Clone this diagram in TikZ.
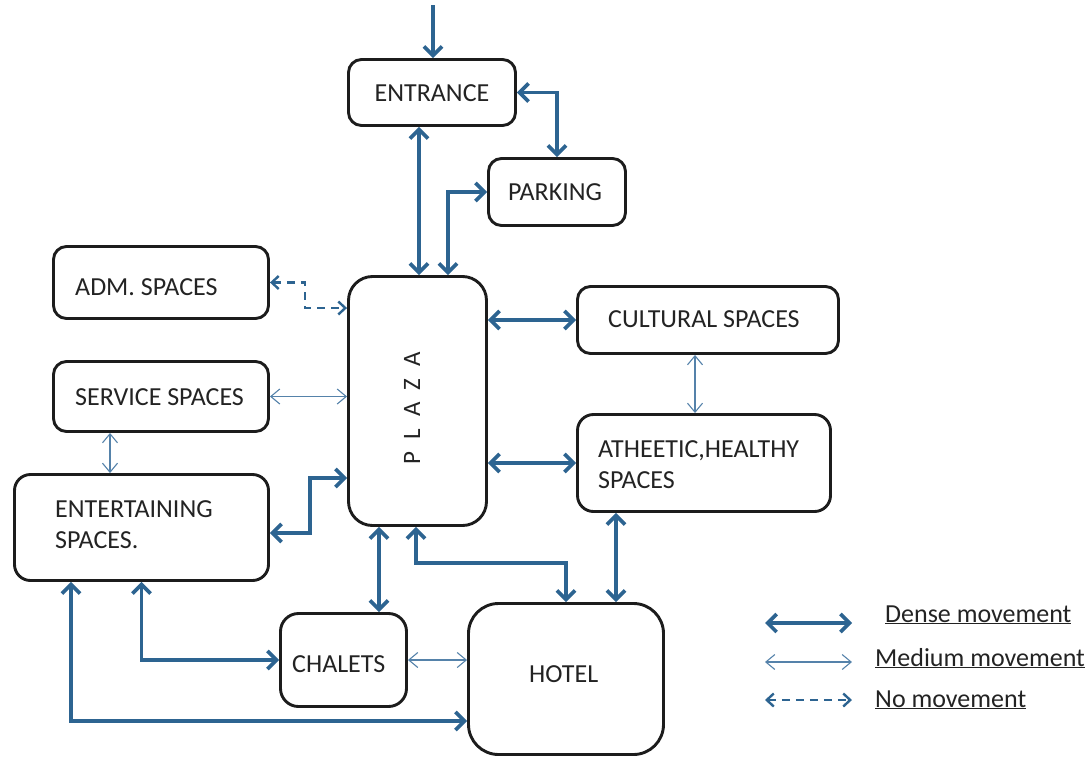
\documentclass[tikz,border=0pt]{standalone}
\usepackage{fontspec}
\setmainfont{Carlito}
\usetikzlibrary{arrows.meta,calc}
\definecolor{densec}{RGB}{45,100,145}
\definecolor{thinc}{RGB}{85,130,170}
\definecolor{boxc}{RGB}{28,28,28}
\definecolor{txtc}{RGB}{35,35,35}
\begin{document}
\begin{tikzpicture}[x=1pt,y=-1pt,
  box/.style={draw=boxc, line width=2.9pt, inner sep=0pt, rounded corners=#1},
  box/.default=13pt,
  lab/.style={font=\fontsize{26}{30}\selectfont, text=txtc, inner sep=0pt},
  dns/.style={draw=densec, line width=3.7pt, >={Straight Barb[length=9pt,width=18pt]}, <->},
  med/.style={draw=thinc, line width=1.1pt, >={Straight Barb[length=9pt,width=15pt]}, <->},
  nomv/.style={draw=densec, line width=2.4pt, dash pattern=on 8pt off 6pt, >={Straight Barb[length=7pt,width=13pt]}, <->}
]
\useasboundingbox (0,0) rectangle (1089,758);

% boxes
\node[box] (ent) at (432,92.5) [minimum width=167pt, minimum height=66pt] {};
\node[box] (park) at (557,192) [minimum width=137pt, minimum height=67pt] {};
\node[box=24pt] (plaza) at (417.5,401) [minimum width=138pt, minimum height=249pt] {};
\node[box] (adm) at (161,282.5) [minimum width=215pt, minimum height=72pt] {};
\node[box] (serv) at (161,396.5) [minimum width=215pt, minimum height=70pt] {};
\node[box=16pt] (entsp) at (141.5,527.5) [minimum width=254pt, minimum height=106pt] {};
\node[box] (cult) at (708,320) [minimum width=261pt, minimum height=67pt] {};
\node[box=16pt] (ath) at (704,463) [minimum width=253pt, minimum height=97pt] {};
\node[box=18pt] (chal) at (343.5,660) [minimum width=126pt, minimum height=93pt] {};
\node[box=30pt] (hotel) at (566,679) [minimum width=195pt, minimum height=151pt] {};

% labels
\node[lab, anchor=base] (entT) at (432,101) {ENTRANCE};
\node[lab, anchor=base] (parkT) at (555,200) {PARKING};
\node[lab, anchor=base west] (admT) at (75,295) {ADM. SPACES};
\node[lab, anchor=base west] (servT) at (75,405) {SERVICE SPACES};
\node[lab, anchor=base west, align=left] (entspT) at (55,548) {ENTERTAINING\\[1pt]SPACES.};
\node[lab, anchor=base west] (cultT) at (608,327) {CULTURAL SPACES};
\node[lab, anchor=base west, align=left] (athT) at (598,488) {ATHEETIC,HEALTHY\\[1pt]SPACES};
\node[lab, anchor=base west] (chalT) at (292,672) {CHALETS};
\node[lab, anchor=base west] (hotelT) at (529,682) {HOTEL};
\node[lab, rotate=90, font=\fontsize{25}{28}\selectfont] (plazaT) at (412,408)
  {P\hspace{12pt}L\hspace{12pt}A\hspace{12pt}Z\hspace{12pt}A};

% connectors
\coordinate (top) at (433,5);
\draw[dns, <-] ([xshift=1pt]ent.north) -- (top);
\draw[dns] (ent.east) -| (park.north);
\draw[dns] ([xshift=-13pt]ent.south) -- ([xshift=-13pt]ent.south |- plaza.north);
\draw[dns] (park.west) -| ([xshift=30.5pt]plaza.north);
\draw[nomv] (adm.east) -- ++(35,0) |- ([yshift=93pt]plaza.west);
\draw[med] (serv.east) -- (serv.east -| plaza.west);
\draw[med] ([xshift=-51pt]serv.south) -- ([xshift=-51pt]serv.south |- entsp.north);
\draw[dns] ([yshift=-5.5pt]entsp.east) -- ++(40,0) |- ([yshift=-77pt]plaza.west);
\draw[dns] (cult.west -| plaza.east) -- (cult.west);
\draw[med] ([xshift=-13pt]cult.south) -- ([xshift=-13pt]cult.south |- ath.north);
\draw[dns] (ath.west -| plaza.east) -- (ath.west);
\draw[dns] ([xshift=35.5pt]chal.north |- plaza.south) -- ([xshift=35.5pt]chal.north);
\draw[dns] ([xshift=-1.5pt]plaza.south) -- ++(0,36) -| (hotel.north);
\draw[dns] ([xshift=-88pt]ath.south) -- ([xshift=-88pt]ath.south |- hotel.north);
\draw[dns] (entsp.south) |- (chal.west);
\draw[dns] ([xshift=-70.5pt]entsp.south) |- ([yshift=-42pt]hotel.west);
\draw[med] (chal.east) -- (chal.east -| hotel.west);

% legend
\coordinate (d1) at (765,623); \coordinate (d2) at (852,623);
\coordinate (m1) at (765,662); \coordinate (m2) at (852,662);
\coordinate (n1) at (765,700); \coordinate (n2) at (852,700);
\draw[dns] (d1) -- (d2);
\draw[med] (m1) -- (m2);
\draw[nomv] (n1) -- (n2);
\node[lab, anchor=base west] (dT) at (885,622) {\underline{Dense movement}};
\node[lab, anchor=base west] (mT) at (875,666) {\underline{Medium movement}};
\node[lab, anchor=base west] (nT) at (875,707) {\underline{No movement}};
\end{tikzpicture}
\end{document}
